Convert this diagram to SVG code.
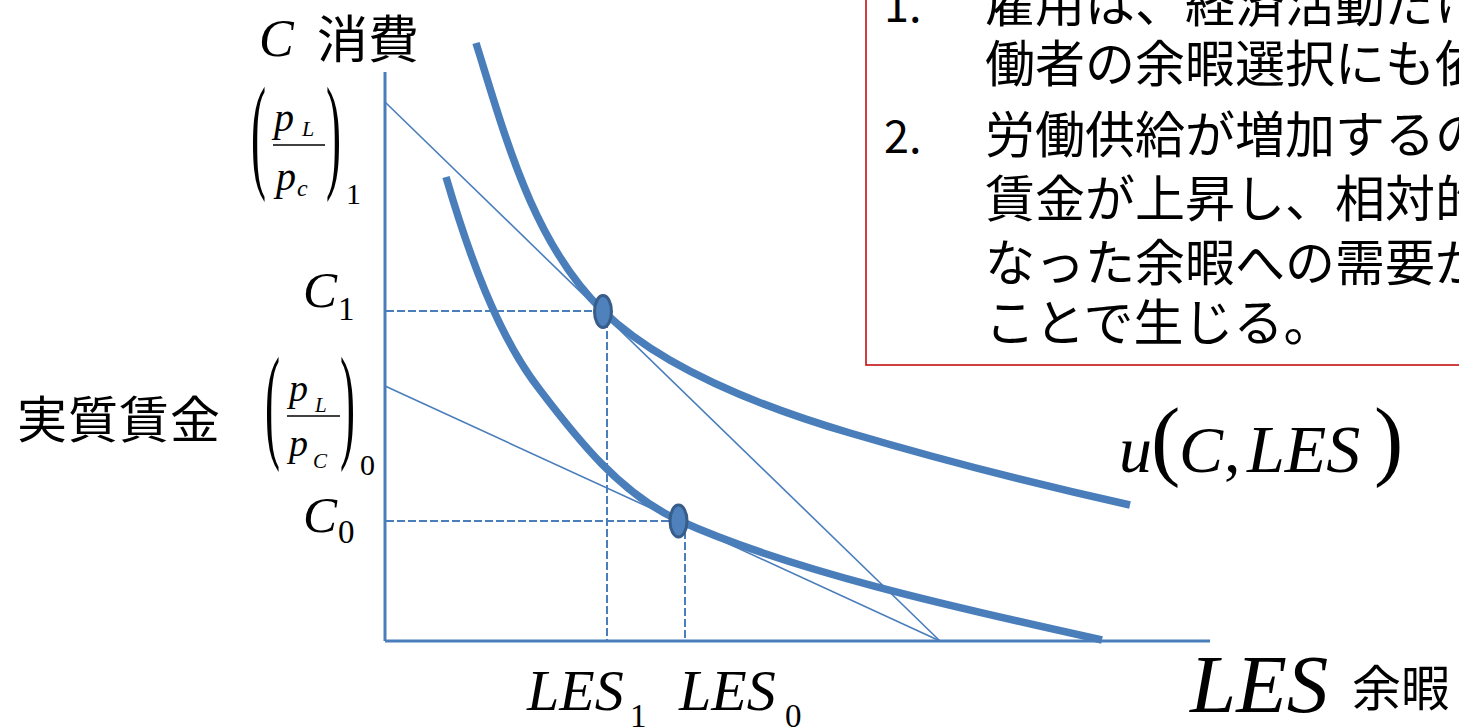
<svg xmlns="http://www.w3.org/2000/svg" width="1459" height="728" viewBox="0 0 1459 728">
<style>
.ax{stroke:#4a7ebb;stroke-width:3;fill:none}
.bl{stroke:#4a7ebb;stroke-width:1.6;fill:none}
.ic{stroke:#4a7ebb;stroke-width:7.5;fill:none;stroke-linecap:butt}
.ds{stroke:#4a7ebb;stroke-width:2;fill:none;stroke-dasharray:8,3}
.pt{fill:#4f81bd;stroke:#385d8a;stroke-width:3}
.m{font-family:"Liberation Serif","Times New Roman",serif;font-style:italic;fill:#000}
.n{font-family:"Liberation Serif","Times New Roman",serif;fill:#000}
.j{font-family:"Noto Sans CJK JP","Noto Sans",sans-serif;fill:#000}
</style>
<rect width="1459" height="728" fill="#fff"/>
<g id="note-box">
<rect x="866" y="-10" width="700" height="375" fill="#fff" stroke="#c00000" stroke-width="1.5"/>
<g class="j" font-size="50">
<text x="884" y="22" font-size="45">1.</text>
<text x="985" y="22">雇用は、経済活動だけ</text>
<text x="985" y="82">働者の余暇選択にも依</text>
<text x="884" y="153" font-size="45">2.</text>
<text x="985" y="153">労働供給が増加するの</text>
<text x="985" y="217">賃金が上昇し、相対的</text>
<text x="985" y="281">なった余暇への需要が</text>
<text x="985" y="341">ことで生じる。</text>
</g>
</g>
<g id="connectors">
<line class="ax" x1="385" y1="72" x2="385" y2="641"/>
<line class="ax" x1="385" y1="641" x2="1210" y2="641"/>
<line class="bl" x1="385" y1="102" x2="940" y2="641"/>
<line class="bl" x1="385" y1="386" x2="940" y2="641"/>
<line class="ds" x1="386" y1="311" x2="596" y2="311"/>
<line class="ds" x1="607" y1="320" x2="607" y2="640"/>
<line class="ds" x1="386" y1="521" x2="670" y2="521"/>
<line class="ds" x1="685" y1="531" x2="685" y2="640"/>
</g>
<g id="curve-u1">
<path class="ic" d="M476,43 C506,139 533,243 603,311 C663,369 765,408 850,433 C945,461 1035,484 1130,505"/>
</g>
<g id="curve-u0">
<path class="ic" d="M446,177 C468,252 497,335 540,390 C578,440 621,494 678,520 C788,570 952,607 1102,640"/>
</g>
<g id="point-1"><ellipse class="pt" cx="603" cy="311.5" rx="8.5" ry="16"/></g>
<g id="point-0"><ellipse class="pt" cx="678.5" cy="521" rx="8.5" ry="16"/></g>
<g id="label-c-axis">
<text class="m" x="259" y="56" font-size="52">C</text>
<text class="j" x="317" y="58" font-size="51">消費</text>
</g>
<g id="label-ratio-1">
<text class="n" font-size="45" transform="translate(251,175) scale(1,2.8)">(</text>
<text class="n" font-size="45" transform="translate(326,175) scale(1,2.8)">)</text>
<text class="m" x="274" y="131" font-size="40">p</text>
<text class="m" x="302" y="136" font-size="22">L</text>
<line x1="273" y1="145" x2="325" y2="145" stroke="#000" stroke-width="1.5"/>
<text class="m" x="276" y="190" font-size="40">p</text>
<text class="m" x="297" y="196" font-size="24">c</text>
<text class="n" x="346" y="204" font-size="30">1</text>
</g>
<g id="label-ratio-0">
<text class="j" x="17" y="438" font-size="50" letter-spacing="1">実質賃金</text>
<text class="n" font-size="45" transform="translate(265,445) scale(1,2.8)">(</text>
<text class="n" font-size="45" transform="translate(340,445) scale(1,2.8)">)</text>
<text class="m" x="289" y="401" font-size="38">p</text>
<text class="m" x="315" y="412" font-size="21">L</text>
<line x1="287" y1="416" x2="340" y2="416" stroke="#000" stroke-width="1.5"/>
<text class="m" x="289" y="456" font-size="38">p</text>
<text class="m" x="313" y="468" font-size="21">C</text>
<text class="n" x="360" y="475" font-size="30">0</text>
</g>
<g id="label-c1">
<text class="m" x="303" y="307" font-size="51">C</text>
<text class="n" x="338" y="320" font-size="33">1</text>
</g>
<g id="label-c0">
<text class="m" x="303" y="532" font-size="51">C</text>
<text class="n" x="338" y="543" font-size="33">0</text>
</g>
<g id="label-les1">
<text class="m" x="527" y="710" font-size="58">LES</text>
<text class="n" x="630" y="727" font-size="33">1</text>
</g>
<g id="label-les0">
<text class="m" x="679" y="710" font-size="58">LES</text>
<text class="n" x="785" y="727" font-size="33">0</text>
</g>
<g id="label-utility">
<text class="m" x="1119" y="472" font-size="66">u</text>
<text class="n" x="1151" y="469" font-size="88">(</text>
<text class="m" x="1179" y="472" font-size="66">C</text>
<text class="n" x="1224" y="472" font-size="66">,</text>
<text class="m" x="1247" y="472" font-size="68">LES</text>
<text class="n" x="1374" y="469" font-size="88">)</text>
</g>
<g id="label-les-axis">
<text class="m" x="1190" y="712" font-size="83">LES</text>
<text class="j" x="1352" y="706" font-size="49">余暇</text>
</g>
</svg>
